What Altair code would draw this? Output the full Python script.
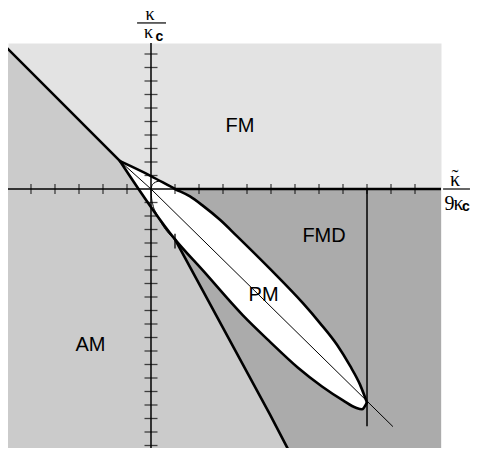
import altair as alt
import pandas as pd

# ---- data (x = κ̃/9κc, y = κ/κc, in tick units) ----
XMIN, XMAX = -5.958, 12.083
YMIN, YMAX = -19.185, 10.815

x_ticks = [-5, -4, -3, -2, -1, 1, 2, 3, 4, 5, 6, 7, 8, 9, 10, 11]
y_ticks = list(range(-19, 0)) + list(range(1, 11))

# AM / FM boundary (upper-left line to triple point)
amfm_x = [-6.08, -1.29]
amfm_y = [10.59, 2.06]

# PM upper boundary
pmu_x = [-1.29, 0.0, 1.0, 1.625, 2.17, 2.875, 3.58, 4.96, 6.33, 7.04, 7.75, 8.29, 8.71, 8.92, 9.0]
pmu_y = [2.06, 0.96, 0.0, -0.55, -1.25, -2.28, -3.49, -5.92, -8.46, -9.93, -11.54, -13.09, -14.49, -15.44, -15.81]

# PM lower boundary
pml_x = [-1.29, 1.0, 2.17, 3.83, 4.96, 6.125, 7.125, 8.0, 8.54, 8.79, 9.0]
pml_y = [2.06, -3.73, -6.05, -9.36, -11.32, -13.24, -14.63, -15.66, -16.21, -16.32, -15.81]

# AM / FMD boundary
amd_x = [1.0, 4.96, 5.75]
amd_y = [-3.73, -16.71, -19.41]

# thin diagonal through PM
diag_x = [-1.29, 0.0, 10.08]
diag_y = [2.06, 0.0, -17.6]

# small arc near origin
arc_x = [0.0, 0.04, 0.125, 0.25, 0.375]
arc_y = [0.0, 0.26, 0.44, 0.55, 0.61]

# thin curve from origin to junction
sp_x = [0.0, 0.02, 0.08, 0.21, 0.42, 0.67, 1.0]
sp_y = [0.0, -0.59, -1.18, -1.76, -2.5, -3.15, -3.73]

# vertical line at x = 9 and small mark at x = 1
vline_x, vline_y, vline_y2 = 9.0, 0.0, -17.57
mark_x, mark_y, mark_y2 = 1.0, -3.31, -4.41

region_labels = ["FM", "FMD", "PM", "AM"]
region_x = [3.71, 7.21, 4.69, -2.52]
region_y = [4.67, -3.46, -7.83, -11.58]

FM_C, AM_C, FMD_C = "#e3e3e3", "#cbcbcb", "#ababab"

xs = alt.Scale(domain=[XMIN, XMAX], nice=False, zero=False)
ys = alt.Scale(domain=[YMIN, YMAX], nice=False, zero=False)


def X(f="x"):
    return alt.X(f"{f}:Q", scale=xs, axis=None)


def Y(f="y"):
    return alt.Y(f"{f}:Q", scale=ys, axis=None)


def df(**kw):
    return pd.DataFrame(kw)


layers = []

# FMD background below axis
layers.append(alt.Chart(df(x=[XMIN], x2=[XMAX], y=[0.0], y2=[YMIN])).mark_rect(color=FMD_C)
              .encode(x=X(), x2="x2:Q", y=Y(), y2="y2:Q"))
# PM white (below upper boundary)
layers.append(alt.Chart(df(x=pmu_x, y=pmu_y, y2=[YMIN] * len(pmu_x)))
              .mark_area(color="white", interpolate="monotone", clip=True)
              .encode(x=X(), y=Y(), y2="y2:Q"))
# FMD below lower boundary
layers.append(alt.Chart(df(x=pml_x, y=pml_y, y2=[YMIN] * len(pml_x)))
              .mark_area(color=FMD_C, interpolate="monotone", clip=True)
              .encode(x=X(), y=Y(), y2="y2:Q"))
# AM
am_bx = amfm_x + amd_x
am_by = amfm_y + amd_y
layers.append(alt.Chart(df(x=am_bx, y=am_by, y2=[YMIN - 1] * len(am_bx)))
              .mark_area(color=AM_C, clip=True)
              .encode(x=X(), y=Y(), y2="y2:Q"))

# axes
layers.append(alt.Chart(df(x=[XMIN], x2=[XMAX], y=[0.0])).mark_rule(color="black", strokeWidth=1.5)
              .encode(x=X(), x2="x2:Q", y=Y()))
layers.append(alt.Chart(df(x=[1.0], x2=[XMAX], y=[0.0])).mark_rule(color="black", strokeWidth=2.5)
              .encode(x=X(), x2="x2:Q", y=Y()))
layers.append(alt.Chart(df(x=[0.0], y=[YMAX], y2=[YMIN])).mark_rule(color="black", strokeWidth=1.5)
              .encode(x=X(), y=Y(), y2="y2:Q"))
layers.append(alt.Chart(df(x=x_ticks, y=[0.0] * len(x_ticks)))
              .mark_tick(orient="vertical", size=10, thickness=1.3, color="black")
              .encode(x=X(), y=Y()))
layers.append(alt.Chart(df(x=[0.0] * len(y_ticks), y=y_ticks))
              .mark_tick(orient="horizontal", size=13, thickness=1.3, color="black")
              .encode(x=X(), y=Y()))

# vertical line and small mark
layers.append(alt.Chart(df(x=[vline_x], y=[vline_y], y2=[vline_y2])).mark_rule(color="black", strokeWidth=1.5)
              .encode(x=X(), y=Y(), y2="y2:Q"))
layers.append(alt.Chart(df(x=[mark_x], y=[mark_y], y2=[mark_y2])).mark_rule(color="black", strokeWidth=1.3)
              .encode(x=X(), y=Y(), y2="y2:Q"))

# thin lines
for lx, ly, interp in [(diag_x, diag_y, "linear"), (arc_x, arc_y, "monotone"), (sp_x, sp_y, "monotone")]:
    layers.append(alt.Chart(df(x=lx, y=ly)).mark_line(color="black", strokeWidth=1, interpolate=interp, clip=True)
                  .encode(x=X(), y=Y()))

# thick boundaries
for lx, ly, interp in [(amfm_x, amfm_y, "linear"), (pmu_x, pmu_y, "monotone"),
                       (pml_x, pml_y, "monotone"), (amd_x, amd_y, "linear")]:
    layers.append(alt.Chart(df(x=lx, y=ly)).mark_line(color="black", strokeWidth=2.6, interpolate=interp,
                                                      clip=True, strokeCap="round", strokeJoin="round")
                  .encode(x=X(), y=Y()))

# region labels
layers.append(alt.Chart(df(x=region_x, y=region_y, label=region_labels))
              .mark_text(font="Liberation Sans", fontSize=20, baseline="middle", align="center", color="black")
              .encode(x=X(), y=Y(), text="label:N"))

# axis name glyphs: top (κ / κc) and right (κ̃ / 9κc)
top_txt = ["κ", "κ"]
top_x = [-0.04, -0.1]
top_y = [12.52, 11.15]
layers.append(alt.Chart(df(x=top_x, y=top_y, t=top_txt))
              .mark_text(font="Liberation Serif", fontSize=18, baseline="alphabetic", align="center", color="black")
              .encode(x=X(), y=Y(), text="t:N"))
right_txt = ["˜", "κ", "9", "κ"]
right_x = [12.67, 12.67, 12.44, 12.81]
right_y = [0.37, 0.22, -1.56, -1.56]
layers.append(alt.Chart(df(x=right_x, y=right_y, t=right_txt))
              .mark_text(font="Liberation Serif", fontSize=20, baseline="alphabetic", align="center", color="black")
              .encode(x=X(), y=Y(), text="t:N"))
sub_x = [0.35, 13.125]
sub_y = [11.0, -1.63]
layers.append(alt.Chart(df(x=sub_x, y=sub_y, t=["c", "c"]))
              .mark_text(font="Liberation Sans", fontSize=14, fontWeight="bold", baseline="alphabetic",
                         align="center", color="black")
              .encode(x=X(), y=Y(), text="t:N"))
layers.append(alt.Chart(df(x=[-0.58, 12.17], x2=[0.625, 13.29], y=[12.3, 0.0]))
              .mark_rule(color="black", strokeWidth=1.2)
              .encode(x=X(), x2="x2:Q", y=Y()))

chart = alt.layer(*layers).properties(
    width=433, height=405,
    autosize=alt.AutoSizeParams(type="none"),
    padding={"left": 0, "top": 35, "right": 29, "bottom": 0},
).configure_view(fill=FM_C, stroke="transparent")

chart.save("out.html", embed_options={"renderer": "svg", "actions": False})
